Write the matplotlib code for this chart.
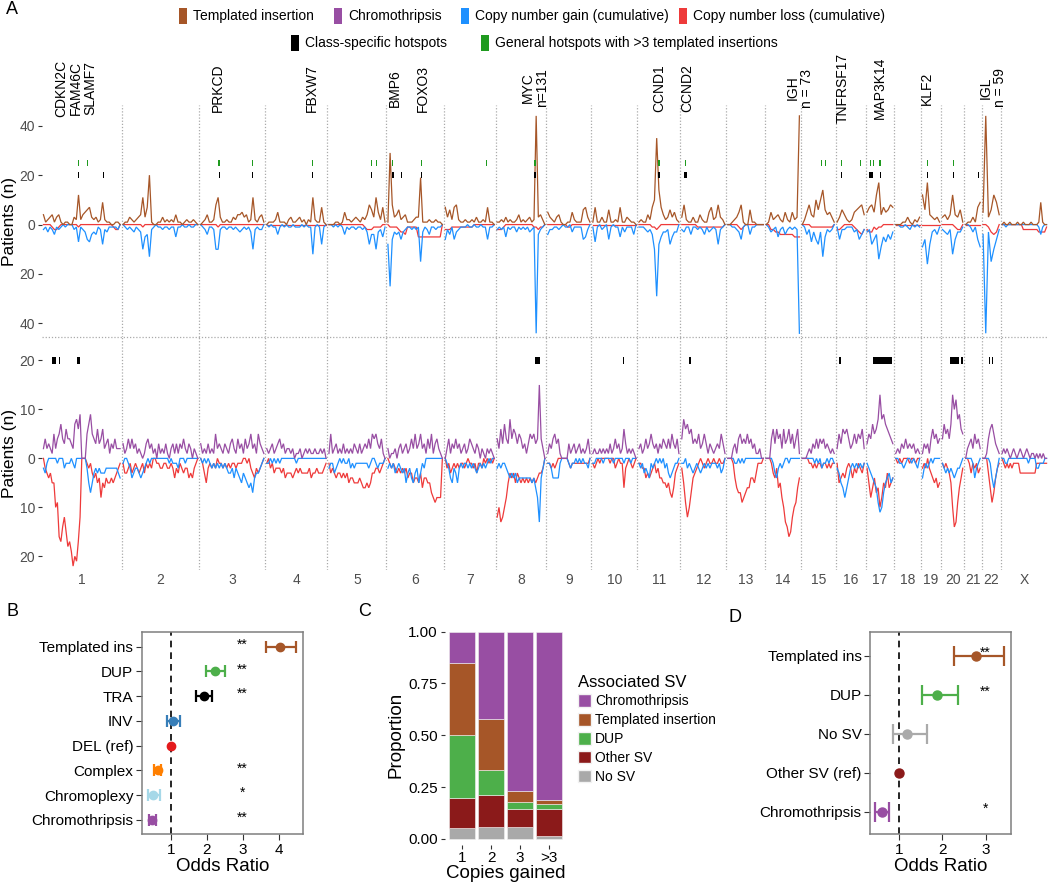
import numpy as np
import matplotlib
matplotlib.use('Agg')
import matplotlib.pyplot as plt
from matplotlib.patches import Rectangle, Patch
from matplotlib.lines import Line2D
from matplotlib.transforms import blended_transform_factory

plt.rcParams['font.family'] = ['Liberation Sans', 'DejaVu Sans']

# ---------------- DATA ----------------
chrom_names = ['1', '2', '3', '4', '5', '6', '7', '8', '9', '10', '11', '12',
               '13', '14', '15', '16', '17', '18', '19', '20', '21', '22', 'X']
chrom_len = [247, 241, 205, 193, 183, 178, 161, 157, 140, 143, 133, 143,
             119, 112, 108, 93, 89, 83, 62, 72, 54, 59, 147]

# top panel: templated insertions (up) and associated copy number gain/loss (down)
ti_top = [
    [4,1,2,3,4,1,3,4,1,0,1,1,0,0,3,2,12,2,4,5,6,7,3,2,3,1,2,9,2,1,1,0,0,1,1,0],
    [0,1,1,3,2,1,2,3,4,11,3,7,20,1,0,0,1,1,3,1,2,1,2,1,4,1,1,0,1,2,1,1,2,1,0],
    [0,1,2,4,1,1,2,8,11,3,1,1,2,1,1,3,2,4,4,5,3,4,1,2,11,2,1,3,4,1],
    [0,1,1,1,2,5,1,1,1,0,2,3,1,1,2,3,1,2,0,2,1,11,2,1,1,7,1,0],
    [0,0,0,1,1,0,1,5,2,2,1,2,3,2,1,3,2,4,8,6,3,11,5,2,7,1],
    [1,29,8,3,4,6,2,3,4,1,1,1,2,3,3,19,1,1,1,2,1,1,2,1,1,0],
    [7,3,6,2,7,8,2,1,1,2,1,1,2,1,3,1,1,2,1,7,1,1,0],
    [1,1,2,1,3,1,2,1,1,2,4,1,2,1,2,3,1,2,44,3,4,2,0],
    [5,3,2,1,3,4,1,0,0,1,1,5,2,1,1,1,6,7,3,1],
    [1,7,1,1,3,1,1,6,1,1,2,1,7,1,1,3,2,1,1,0],
    [1,2,1,1,4,2,7,10,35,14,7,4,2,3,6,3,5,2,1],
    [3,8,2,1,1,3,1,1,4,2,1,1,5,7,2,3,8,3,2,0],
    [0,0,1,2,3,5,8,1,0,0,6,1,1,0,0,0,0],
    [0,1,5,2,3,4,2,1,5,2,1,5,2,3,44],
    [0,2,5,8,4,3,10,6,10,14,6,4,5,3,1],
    [1,3,6,4,2,1,2,5,6,7,8,4],
    [5,7,8,5,12,17,4,7,5,6,8,7],
    [0,0,0,1,1,3,1,0,2,1,3],
    [12,6,17,4,3,2,3,1],
    [3,4,2,4,12,4,3,6,1],
    [0,1,1,3,1,7,9],
    [5,44,3,6,12,9,4],
    [0,1,0,0,1,0,0,0,1,0,0,1,0,0,0,1,0,0,0,1,9,1,0,0],
]
gain_top = [
    [-2,-1,-3,-1,-2,-4,-1,-2,-1,0,-1,0,0,0,-2,-1,-7,-1,-2,-3,-6,-7,-4,-3,-4,-1,-2,-8,-2,-3,-1,-1,-1,-1,-2,0],
    [0,-1,-2,-1,-2,-3,-1,-2,-3,-10,-5,-4,-13,-2,-1,0,-1,-1,-2,-1,-1,-2,-1,-1,-5,-1,-1,0,-1,-1,0,-1,-1,0,0],
    [0,-1,-2,-4,-1,-1,-2,-10,-10,-2,-1,-1,-2,-1,-1,-2,-1,-2,-3,-2,-1,-2,-1,-3,-10,-2,-1,-2,-2,0],
    [0,-1,0,-1,-1,-4,-1,0,-1,0,-1,-1,0,-1,-1,-1,0,-1,0,-1,-1,-12,-1,0,-1,-8,-1,0],
    [0,0,-1,0,-1,0,-1,-4,-1,-2,-1,-1,-2,-1,-1,-2,-1,-3,-8,-4,-4,-10,-3,-2,-5,-1],
    [-8,-25,-6,-3,-4,-3,-6,-3,-2,-1,-1,-2,-1,-2,-1,-15,-3,-1,-2,-4,-1,-1,-2,-1,-1,0],
    [-6,-2,-4,-1,-6,-3,-2,-1,-1,-1,0,-1,-1,0,-1,-1,0,-1,-1,-6,-1,-1,0],
    [-2,-1,-2,-1,-5,-1,-2,-1,-1,-3,-1,-2,-1,-2,-1,-3,-2,-1,-44,-4,-2,-1,0],
    [-4,-2,-2,-1,-1,-2,-1,0,-1,-1,0,-3,-1,-1,-1,-1,-6,-5,-2,0],
    [-1,-7,-1,0,-2,-1,0,-6,-1,0,-1,-1,-5,-1,-3,-1,-1,-1,-4,0],
    [-1,-1,-1,-2,-3,-2,-4,-10,-29,-8,-5,-3,-3,-2,-8,-5,-3,-3,0],
    [-2,-3,-1,-1,-4,-1,-1,-2,-1,-2,-4,-1,-3,-2,-1,-2,-8,-2,-1,0],
    [0,0,-1,-1,-2,-3,-6,-1,0,0,-4,-1,-1,0,0,0,0],
    [0,-1,-3,-2,-1,-5,-2,-1,-4,-2,-1,-2,-1,-2,-44],
    [0,-1,-4,-2,-7,-3,-6,-8,-3,-13,-5,-2,-3,-2,0],
    [-1,-6,-2,-2,-1,-1,-1,-3,-2,-6,-4,-2],
    [-3,-2,-8,-6,-4,-14,-9,-5,-7,-4,-6,-3],
    [0,0,-1,-1,0,-1,-2,0,-1,0,-1],
    [-9,-6,-16,-8,-3,-2,-4,-1],
    [-2,-3,-4,-2,-12,-6,-3,-3,-1],
    [0,0,-1,-3,-1,-6,-9],
    [-4,-44,-3,-15,-10,-6,-2],
    [0,0,-1,0,0,0,0,0,0,0,0,0,0,0,0,0,0,0,0,-1,-4,-1,0,0],
]
loss_top = [
    [0,0,0,0,-1,-2,-2,-1,0,0,0,0,0,0,0,0,-1,0,0,0,0,0,0,0,0,0,0,0,0,0,0,0,-1,-2,-2,0],
    [0,0,0,0,0,0,0,0,0,-1,0,0,0,0,0,0,0,0,0,0,0,0,0,0,0,0,0,0,0,0,0,0,0,0,0],
    [0,0,0,0,0,0,0,0,-1,0,0,0,0,0,0,0,0,0,0,0,0,0,0,0,0,0,0,0,0,0],
    [0,0,0,0,0,0,0,0,0,0,0,0,0,0,0,0,0,0,0,0,0,0,0,0,0,0,0,0],
    [0,0,0,0,0,0,0,0,0,0,0,0,0,0,0,0,-1,-2,-2,-2,-1,-1,-1,-1,0,0],
    [0,-1,-1,-1,-1,-2,-3,-3,-4,-1,-1,-1,-1,-1,-5,-5,-5,-5,-5,-5,-5,-5,-5,-5,-5,0],
    [-2,-2,-2,-1,-1,-1,-1,-1,-1,-1,-1,-1,-1,0,0,0,0,0,0,0,0,0,0],
    [-2,-2,-2,-1,0,0,0,0,0,0,0,0,0,0,0,0,0,-1,-1,-2,-1,-1,0],
    [0,0,0,0,0,0,0,0,0,-1,-1,0,0,0,0,0,0,0,0,0],
    [0,0,0,0,0,0,0,0,0,0,0,0,0,0,0,0,0,0,0,0],
    [0,0,0,0,0,0,-1,-1,-2,-1,0,0,0,0,0,0,0,0,0],
    [0,0,0,0,0,0,0,-1,-1,-1,-1,-1,-1,-1,-1,-1,-1,-1,-1,0],
    [0,0,0,0,0,-1,-2,-1,0,0,0,0,0,0,0,0,0],
    [0,0,-2,-2,-3,-3,-4,-4,-4,-4,-4,-4,-5,-5,-5],
    [0,0,0,0,-1,-1,-1,-1,-1,-1,-1,-1,-1,-1,0],
    [-2,-2,-1,0,0,0,0,-1,-2,-3,-4,-2],
    [-2,-3,-3,-1,-2,-1,-1,0,0,0,0,0],
    [0,0,0,0,0,0,0,0,0,0,0],
    [0,0,0,0,0,0,0,0],
    [0,0,0,0,0,-1,-2,-2,0],
    [0,0,0,0,0,0,0],
    [0,0,-1,-3,-4,-3,0],
    [0,0,0,0,0,0,0,0,0,0,0,-2,-2,-2,-2,-2,-2,-2,-2,-3,-3,-3,-3,-1],
]

# bottom panel: chromothripsis (up) and associated copy number gain/loss (down)
cth_bot = [
    [2,4,2,3,2,1,5,2,4,5,7,4,3,6,4,4,3,2,7,8,6,9,0,0,0,5,7,9,5,4,3,6,3,4,6,2,3,4,1,3,2,4,2,2,2],
    [3,1,2,4,2,4,2,3,1,2,1,0,1,3,4,2,3,1,2,0,3,1,2,1,3,1,0,2,3,1,3,1,3,2,4,2,1,3,2,0,2,1,0],
    [3,1,2,1,3,1,2,1,5,2,3,2,1,3,2,1,3,4,2,1,4,2,3,1,4,2,3,5,2,3,1,5,3,2,1],
    [2,1,2,3,1,2,3,4,2,3,1,2,2,1,2,0,1,1,2,0,1,2,1,2,1,1,2,1,1,2,1,2,0],
    [1,5,1,2,3,1,2,1,3,1,2,1,2,1,3,2,1,3,1,2,3,2,4,2,5,4,5,3,2,4,1,0],
    [2,0,1,1,2,0,2,3,1,2,3,1,2,4,2,5,2,3,5,2,3,1,4,2,5,1,3,4,2,1,0],
    [0,2,4,1,3,2,4,2,3,1,2,3,1,2,4,3,2,1,3,2,0,2,1,0,2,1,2,1,0],
    [4,2,6,3,7,4,3,8,4,6,5,3,5,4,2,3,1,3,5,4,5,3,4,15,4,2,0],
    [1,3,2,4,5,3,4,1,0,0,0,0,3,1,2,3,1,2,3,1,2,1,2,4,1],
    [1,2,1,1,2,1,2,1,2,1,3,1,2,4,2,3,1,2,6,3,1,2,1,2,1,0],
    [2,3,1,2,4,2,3,5,3,2,3,1,3,2,4,3,2,4,2,5,3,2,4,1],
    [4,8,6,7,5,6,3,4,3,5,2,3,5,3,1,3,2,1,2,3,2,5,3,1],
    [0,0,0,2,3,1,4,5,3,4,3,5,3,4,2,3,1,1,2,0,0],
    [0,0,0,4,6,3,6,4,5,2,6,3,4,6,3,5,2,4,6,1],
    [0,0,0,1,2,1,3,2,4,2,4,3,4,2,3,2,1,2,1],
    [2,5,3,6,5,6,4,2,3,5,3,5,4,6,2],
    [3,5,4,7,5,6,8,13,8,9,7,6,5,4,3],
    [1,2,1,3,2,4,2,3,2,3,1,2,1],
    [1,3,2,3,1,4,6,4,5,3,4],
    [4,7,5,6,4,7,13,10,12,8,9,6,5],
    [0,2,3,4,2,5,3,4,2],
    [0,0,1,4,6,7,5,3,2,1],
    [1,2,1,2,1,0,1,2,1,0,1,2,1,0,1,2,1,0,1,1,0,1,0,1,0,1,0,0],
]
gain_bot = [
    [-2,-3,-1,0,0,0,0,0,-1,0,0,0,-2,-1,-1,-1,0,-1,-2,0,0,0,0,0,0,-2,-5,-7,-5,-3,-2,-3,-2,-3,-3,-3,-2,-2,-2,-2,-2,-2,-2,-3,-4],
    [-1,0,0,-1,-2,-4,-3,-2,-2,-3,-4,-3,-2,-1,0,-1,0,0,0,0,0,0,0,0,0,0,-1,0,-1,-1,-1,-2,0,0,0,-1,0,0,0,0,0,0,0],
    [0,-1,0,-1,0,-1,-2,-1,-2,-1,-2,-1,-2,-1,-2,-3,-3,-2,-4,-2,-3,-4,-5,-3,-4,-5,-6,-5,-7,-4,-3,-3,-2,-1,0],
    [-1,-1,0,-1,0,-1,0,-1,0,0,0,0,0,0,0,0,-1,0,0,0,0,0,0,0,0,0,0,0,0,0,0,0,0],
    [-2,-1,-1,-3,-2,-1,0,-1,0,-1,-1,0,-2,-1,-2,-1,-1,-1,-1,-1,-1,-1,-2,-1,0,0,-1,-2,-1,-1,-1,0],
    [-2,-1,-2,-1,-3,-2,-1,-2,-3,-2,-5,-3,-2,-4,-5,-3,-2,-5,-3,-1,-2,0,0,0,0,0,0,0,0,0,0],
    [0,-1,-2,-4,-5,-2,-3,-5,-2,-1,-2,-1,-1,-2,-1,-2,-1,-2,-3,-2,-1,-2,-1,-2,-1,0,-1,0,0],
    [-2,-1,-2,-1,-1,-2,-3,-4,-3,-4,-3,-5,-4,-4,-4,-4,-4,-4,-4,-5,-4,-6,-8,-13,-4,-2,0],
    [-1,-1,-2,-4,-4,-4,-4,-1,0,0,0,0,-1,-2,-1,-1,0,-1,0,-1,0,-1,-1,-2,0],
    [-1,-1,0,0,0,0,-1,0,0,0,0,0,-1,0,0,0,0,0,-1,0,0,0,-1,0,0,0],
    [-1,-2,-1,-3,-2,-3,-4,-1,-2,-1,0,-1,0,-1,0,-2,-1,-3,-4,-3,-2,-1,-1,0],
    [-1,-1,0,-2,-1,-2,-3,-2,-1,-2,-3,-2,-1,-2,-1,-2,-1,-1,-1,-2,-1,-3,-2,0],
    [0,0,0,0,-1,-1,0,-1,0,-1,0,0,0,0,0,0,0,0,0,0,0],
    [0,0,0,0,-1,-3,-4,-2,-1,-2,-1,0,0,-1,0,0,0,0,0,0],
    [0,0,0,0,0,0,0,-1,0,-1,0,-2,-1,-1,0,-1,0,0,-1],
    [-2,-3,-5,-6,-8,-6,-4,-2,-1,-2,-1,-2,-1,-2,-1],
    [-1,-2,-3,-4,-5,-6,-9,-11,-10,-7,-5,-4,-3,-5,-4],
    [0,0,-1,-1,-2,-1,0,0,-1,0,-1,-2,0],
    [-4,-2,-1,-2,-1,0,-1,0,0,0,0],
    [-1,-2,-3,-2,-3,-2,-3,-4,-3,-2,-2,-1,0],
    [0,0,0,0,-1,-4,-2,-1,0],
    [0,0,0,0,-1,-4,-6,-4,-2,0],
    [0,0,-1,-1,0,0,0,0,0,0,0,0,0,0,0,0,-1,0,0,0,0,-2,-2,-1,-1,-1,0,0],
]
loss_bot = [
    [0,-2,-3,-4,-3,-5,-5,-10,-9,-16,-17,-14,-12,-15,-18,-17,-19,-22,-20,-21,-17,-12,0,0,0,-1,-2,-1,-3,-4,-3,-5,-4,-8,-5,-6,-4,-5,-5,-4,-5,-4,-3,-2,-1],
    [-1,-3,-3,-2,-1,-3,-2,-1,-2,-3,-2,-1,-3,-1,-2,-1,-2,0,0,-1,-1,-2,-2,-1,-1,-2,-2,-1,-2,-4,-2,-3,-1,-2,-3,-2,-2,-4,-3,-4,-2,-1,0],
    [0,-1,-3,-5,-2,-1,-2,-1,-2,0,-1,-1,-2,-1,-2,-1,-2,-1,-1,-2,-1,-1,-1,0,0,-1,0,-2,-3,-4,-2,-3,-2,-1,0],
    [-1,0,-2,-1,-3,-2,-2,-2,-3,-2,-4,-3,-3,-3,-4,-3,-2,-3,-2,-3,-3,-3,-3,-2,-4,-3,-3,-2,-3,-3,-3,-2,-1],
    [-1,-3,-2,-3,-4,-3,-3,-4,-3,-4,-3,-5,-4,-4,-5,-5,-5,-4,-5,-6,-6,-5,-6,-5,-3,-3,-2,-2,-3,-2,-1,0],
    [0,-1,-2,-1,-2,-3,-2,-3,-2,-3,-2,-4,-3,-3,-5,-4,-4,-5,-3,-6,-4,-4,-5,-5,-7,-8,-9,-8,-8,-8,0],
    [0,-2,-1,-3,-2,-1,-2,-1,-2,-1,-1,-2,-1,0,-1,-1,-2,-1,-3,-1,-1,-2,0,-1,0,-1,0,-1,0],
    [-12,-10,-13,-12,-10,-8,-5,-3,-4,-3,-5,-3,-4,-5,-4,-5,-4,-5,-4,-5,-4,-5,-4,-3,-3,-2,0],
    [-1,-1,-2,-1,-2,-1,0,0,0,0,0,0,-1,-2,-1,-1,-1,-1,-1,-1,-1,-1,-1,-1,0],
    [-1,-2,-1,0,-1,0,0,0,0,0,-1,0,0,-2,-1,0,-1,-1,-6,-2,-1,0,-1,-2,-1,0],
    [-1,-1,-2,-2,-4,-3,-4,-3,-2,-1,-3,-2,-4,-4,-5,-5,-6,-5,-7,-8,-6,-3,-2,-1],
    [-2,-5,-9,-12,-10,-7,-4,-3,-2,-1,0,-1,-2,-1,0,-1,-1,0,-1,-1,0,-1,-1,0],
    [0,0,0,-1,-4,-6,-7,-7,-9,-8,-7,-6,-6,-4,-4,-5,-3,-1,-1,-1,0],
    [0,0,0,-1,-3,-4,-2,-6,-5,-8,-10,-13,-14,-16,-15,-12,-10,-9,-6,-4],
    [0,0,0,0,-1,-1,-2,-1,-2,-1,-1,-2,-1,-1,-2,-1,-2,-1,-1],
    [-1,-5,-4,-3,-4,-2,-1,-2,-4,-2,-3,-1,-2,-3,-1],
    [-2,-5,-8,-6,-4,-7,-6,-10,-8,-5,-6,-3,-6,-5,-4],
    [0,-1,0,-1,0,0,0,-1,0,0,-1,0,0],
    [-2,-1,-2,0,-2,-3,-4,-5,-4,-6,-5],
    [-1,-2,-1,-2,-3,-5,-10,-14,-13,-9,-6,-4,-2],
    [0,0,-1,-3,-1,-2,-1,-3,-2],
    [0,0,0,-3,-6,-9,-7,-4,-2,-1],
    [0,-1,-2,-1,-2,-1,-2,-1,-1,-1,-1,-3,-3,-3,-3,-3,-3,-3,-3,-3,-3,-1,-1,-1,-1,-1,-1,-1],
]

# hotspots: (chromosome index, start Mb, end Mb)
hot_top_class = [(0,113,116),(0,188,191),(1,68,71),(2,60,63),(2,165,168),(3,146,149),
                 (4,134,137),(5,17,24),(5,45,48),(5,108,111),(7,119,125),(10,63,71),
                 (11,12,20),(15,16,19),(16,11,24),(16,44,47),(18,19,22),(19,36,39),(20,42,45)]
hot_top_general = [(0,112,115),(0,141,144),(1,68,71),(2,57,60),(2,62,65),(2,165,168),(3,146,149),
                   (4,136,139),(4,150,153),(5,18,21),(5,108,111),(6,132,135),(7,120,124),
                   (10,63,71),(11,14,17),(14,64,67),(14,74,77),(15,16,19),(15,75,78),
                   (16,15,18),(16,23,26),(16,43,48),(18,19,22),(19,37,41)]
hot_bot_class = [(0,32,43),(0,52,55),(0,109,119),(7,121,139),(9,99,102),(11,26,33),
                 (15,10,17),(16,23,44),(16,45,63),(16,64,81),(19,28,57),(19,62,68),
                 (21,22,25),(21,32,35)]

# gene annotations: (label, chromosome index, position Mb)
gene_labels = [('CDKN2C\nFAM46C\nSLAMF7', 0, 105), ('PRKCD', 2, 58), ('FBXW7', 3, 145),
               ('BMP6', 5, 26), ('FOXO3', 5, 112), ('MYC\nn=131', 7, 121),
               ('CCND1', 10, 69), ('CCND2', 11, 23), ('IGH\nn = 73', 13, 108),
               ('TNFRSF17', 15, 23), ('MAP3K14', 16, 44), ('KLF2', 18, 19),
               ('IGL\nn = 59', 21, 35)]

# panel B
b_labels = ['Templated ins', 'DUP', 'TRA', 'INV', 'DEL (ref)', 'Complex', 'Chromoplexy', 'Chromothripsis']
b_or = [4.05, 2.23, 1.92, 1.05, 1.0, 0.63, 0.50, 0.48]
b_lo = [3.64, 1.98, 1.70, 0.89, 1.0, 0.54, 0.36, 0.40]
b_hi = [4.48, 2.50, 2.15, 1.25, 1.0, 0.74, 0.70, 0.58]
b_sig = ['**', '**', '**', '', '', '**', '*', '**']
b_colors = ['#A65628', '#4DAF4A', '#000000', '#377EB8', '#E41A1C', '#FF7F00', '#A6D8E8', '#984EA3']

# panel C
c_groups = ['1', '2', '3', '>3']
c_sv = ['No SV', 'Other SV', 'DUP', 'Templated insertion', 'Chromothripsis']
c_prop = {
    'No SV':               [0.052, 0.059, 0.059, 0.016],
    'Other SV':            [0.143, 0.152, 0.084, 0.127],
    'DUP':                 [0.305, 0.120, 0.037, 0.026],
    'Templated insertion': [0.347, 0.246, 0.053, 0.019],
    'Chromothripsis':      [0.153, 0.423, 0.767, 0.812],
}
c_colors = {'No SV': '#A9A9A9', 'Other SV': '#8B1A1A', 'DUP': '#4DAF4A',
            'Templated insertion': '#A65628', 'Chromothripsis': '#984EA3'}

# panel D
d_labels = ['Templated ins', 'DUP', 'No SV', 'Other SV (ref)', 'Chromothripsis']
d_or = [2.77, 1.88, 1.20, 1.0, 0.61]
d_lo = [2.26, 1.53, 0.87, 1.0, 0.45]
d_hi = [3.42, 2.36, 1.66, 1.0, 0.78]
d_sig = ['**', '**', '', '', '*']
d_colors = ['#A65628', '#4DAF4A', '#AAAAAA', '#8B1A1A', '#984EA3']

# ---------------- FIGURE ----------------
W, H = 1050, 889
fig = plt.figure(figsize=(W / 100, H / 100), dpi=100)

def fbox(x0, y0, x1, y1):
    return [x0 / W, 1 - y1 / H, (x1 - x0) / W, (y1 - y0) / H]

COL_TI = '#A65628'
COL_CT = '#984EA3'
COL_GAIN = '#1E90FF'
COL_LOSS = '#EE3A3A'
TICKCOL = '#4D4D4D'

offsets = np.concatenate([[0], np.cumsum(chrom_len)])
total = offsets[-1]
centers = offsets[:-1] + np.array(chrom_len) / 2.0

ax_top = fig.add_axes(fbox(42, 105, 1048, 337))
ax_bot = fig.add_axes(fbox(42, 337, 1048, 570))

def xs_for(ci, n, pad=4.5):
    return np.linspace(offsets[ci] + pad, offsets[ci] + chrom_len[ci] - pad, n)

LW = 0.9
for ci in range(len(chrom_names)):
    for series, col in ((loss_top, COL_LOSS), (gain_top, COL_GAIN), (ti_top, COL_TI)):
        v = series[ci]
        ax_top.plot(xs_for(ci, len(v)), v, color=col, lw=LW, solid_joinstyle='miter')
    for series, col in ((loss_bot, COL_LOSS), (gain_bot, COL_GAIN), (cth_bot, COL_CT)):
        v = series[ci]
        ax_bot.plot(xs_for(ci, len(v)), v, color=col, lw=LW, solid_joinstyle='miter')

def draw_hot(ax, spots, yc, h, col):
    for ci, s, e in spots:
        ax.add_patch(Rectangle((offsets[ci] + s, yc - h / 2), e - s, h,
                               facecolor=col, edgecolor='none', zorder=5))

draw_hot(ax_top, hot_top_class, 20, 2.6, 'black')
draw_hot(ax_top, hot_top_general, 25, 2.6, '#1F9A1F')
draw_hot(ax_bot, hot_bot_class, 20, 1.3, 'black')

for ax, lim, ticks in ((ax_top, (-45.5, 48.4), [-40, -20, 0, 20, 40]),
                       (ax_bot, (-22.8, 24.8), [-20, -10, 0, 10, 20])):
    ax.set_xlim(0, total)
    ax.set_ylim(*lim)
    for b in offsets[1:-1]:
        ax.axvline(b, color='#AAAAAA', lw=0.9, ls=(0, (1, 1.5)), zorder=0)
    for sp in ax.spines.values():
        sp.set_visible(False)
    ax.set_yticks(ticks)
    ax.set_yticklabels([str(abs(t)) for t in ticks], color=TICKCOL, fontsize=10)
    ax.tick_params(axis='y', length=3, color='#333333', pad=2)
    ax.set_ylabel('Patients (n)', fontsize=12.5)
    ax.yaxis.set_label_coords(-0.0245, 0.5)
    ax.patch.set_alpha(0)

ax_top.set_xticks([])
ax_bot.set_xticks(centers)
ax_bot.set_xticklabels(chrom_names, fontsize=10, color=TICKCOL)
ax_bot.tick_params(axis='x', length=0, pad=2)

fig.add_artist(Line2D([42 / W, 1048 / W], [1 - 337 / H, 1 - 337 / H], color='#AAAAAA',
                      lw=0.9, ls=(0, (1, 1.5))))

trans = blended_transform_factory(ax_top.transData, fig.transFigure)
for lab, ci, pos in gene_labels:
    ax_top.text(offsets[ci] + pos, 1 - 88 / H, lab, rotation=90, ha='center', va='center',
                fontsize=10, transform=trans, linespacing=1.05, multialignment='center')

# top legend
def leg_item(x_key, y_c, col, text):
    fig.add_artist(Rectangle((x_key / W, 1 - (y_c + 7.5) / H), 8 / W, 15 / H,
                             facecolor=col, edgecolor='none', transform=fig.transFigure))
    fig.text((x_key + 14) / W, 1 - y_c / H, text, fontsize=10, va='center', ha='left')

leg_item(179, 16, COL_TI, 'Templated insertion')
leg_item(334, 16, COL_CT, 'Chromothripsis')
leg_item(461, 16, COL_GAIN, 'Copy number gain (cumulative)')
leg_item(679, 16, COL_LOSS, 'Copy number loss (cumulative)')
leg_item(291, 43, 'black', 'Class-specific hotspots')
leg_item(481, 43, '#1F9A1F', 'General hotspots with >3 templated insertions')

# panel letters
for letter, x, y in (('A', 6, 10), ('B', 6, 612), ('C', 358, 612), ('D', 729, 618)):
    fig.text(x / W, 1 - y / H, letter, fontsize=13, va='center', ha='left')

# ---------------- forest plots ----------------
def forest(ax, labels, orv, lo, hi, sig, colors, xlim, xticks, cap, ms):
    n = len(labels)
    ys = np.arange(n, 0, -1)
    for y, o, l, h, c in zip(ys, orv, lo, hi, colors):
        if h > l:
            ax.errorbar(o, y, xerr=[[o - l], [h - o]], fmt='none', ecolor=c,
                        elinewidth=1.6, capsize=cap, capthick=1.6, zorder=3)
        ax.plot(o, y, 'o', color=c, ms=ms, zorder=4)
    for y, s in zip(ys, sig):
        if s:
            ax.text(3, y + 0.08, s, ha='center', va='center', fontsize=10)
    ax.axvline(1, color='black', ls=(0, (4, 3)), lw=1.2, zorder=1)
    ax.set_yticks(ys)
    ax.set_yticklabels(labels, fontsize=11)
    ax.set_xticks(xticks)
    ax.set_xticklabels([str(t) for t in xticks], fontsize=11)
    ax.set_xlim(*xlim)
    ax.set_ylim(0.42, n + 0.6)
    for sp in ax.spines.values():
        sp.set_color('#7F7F7F')
        sp.set_linewidth(1.1)
    ax.tick_params(length=4, color='#333333', pad=2)
    ax.set_xlabel('Odds Ratio', fontsize=13.5, labelpad=1)

ax_b = fig.add_axes(fbox(141.7, 631.7, 302.7, 834.3))
forest(ax_b, b_labels, b_or, b_lo, b_hi, b_sig, b_colors, (0.19, 4.67), [1, 2, 3, 4], 4.5, 6)

ax_d = fig.add_axes(fbox(870, 631.7, 1010.7, 834.3))
forest(ax_d, d_labels, d_or, d_lo, d_hi, d_sig, d_colors, (0.34, 3.575), [1, 2, 3], 7.5, 6.5)
ax_d.set_ylim(0.42, 5.62)

# ---------------- stacked bars ----------------
ax_c = fig.add_axes(fbox(444.9, 626.0, 566, 844.5))
xc = np.arange(1, len(c_groups) + 1)
bottom = np.zeros(len(c_groups))
for sv in c_sv:
    vals = np.array(c_prop[sv])
    ax_c.bar(xc, vals, bottom=bottom, width=0.9, color=c_colors[sv],
             edgecolor='#F2F2F2', linewidth=0.4)
    bottom += vals
ax_c.set_xlim(0.4, 4.6)
ax_c.set_ylim(-0.027, 1.027)
ax_c.set_xticks(xc)
ax_c.set_xticklabels(c_groups, fontsize=11)
ax_c.set_yticks([0, 0.25, 0.5, 0.75, 1.0])
ax_c.set_yticklabels(['0.00', '0.25', '0.50', '0.75', '1.00'], fontsize=11)
for sp in ax_c.spines.values():
    sp.set_visible(False)
ax_c.tick_params(length=3, color='#333333', pad=2)
ax_c.set_ylabel('Proportion', fontsize=13.5, labelpad=3)
ax_c.set_xlabel('Copies gained', fontsize=13.5, labelpad=0)

handles = [Patch(facecolor=c_colors[s], edgecolor='#F2F2F2') for s in c_sv[::-1]]
fig.legend(handles, c_sv[::-1], loc='upper left', bbox_to_anchor=(572 / W, 1 - 669 / H),
           frameon=False, title='Associated SV', title_fontsize=12, fontsize=10,
           handlelength=0.95, handleheight=1.0, labelspacing=0.35, handletextpad=0.3,
           alignment='left', borderaxespad=0)

fig.savefig('out.png', dpi=100)
